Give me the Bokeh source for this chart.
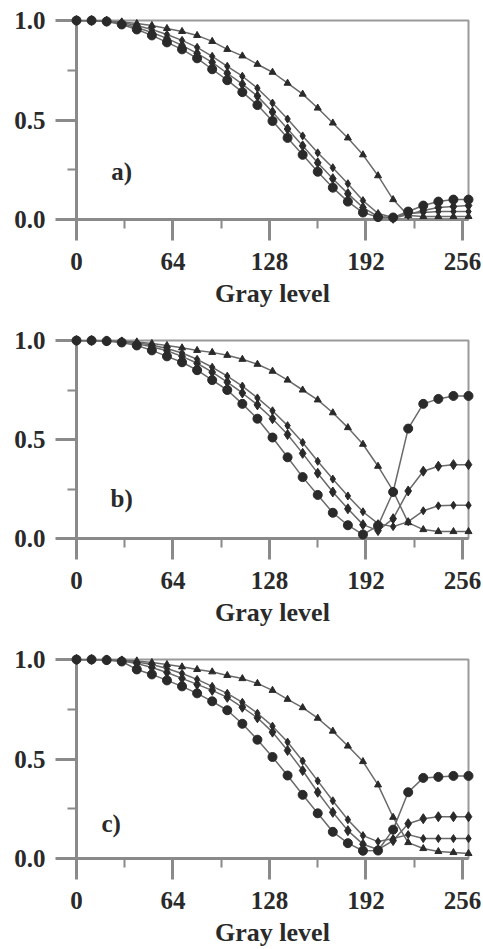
from bokeh.plotting import figure
from bokeh.layouts import column
from bokeh.models import Range1d, FixedTicker, PrintfTickFormatter, Label
from bokeh.embed import file_html
from bokeh.resources import INLINE

gray_level = list(range(0, 261, 10))
x_ticks = [0, 64, 128, 192, 256]
x_minor = [32, 96, 160, 224]
y_ticks = [0.0, 0.5, 1.0]
y_minor = [0.25, 0.75]
panel_tags = ["a)", "b)", "c)"]

# panel a
a1 = [1.0, 1.0, 0.995, 0.98, 0.955, 0.925, 0.89, 0.855, 0.81, 0.755, 0.70, 0.64, 0.575, 0.495, 0.41, 0.325, 0.24, 0.16, 0.09, 0.035, 0.012, 0.01, 0.04, 0.07, 0.09, 0.10, 0.10]
a2 = [1.0, 1.0, 0.996, 0.985, 0.965, 0.94, 0.91, 0.875, 0.835, 0.79, 0.735, 0.68, 0.62, 0.54, 0.455, 0.37, 0.285, 0.205, 0.13, 0.06, 0.015, 0.006, 0.025, 0.045, 0.06, 0.065, 0.07]
a3 = [1.0, 1.0, 0.998, 0.99, 0.975, 0.955, 0.93, 0.90, 0.865, 0.82, 0.77, 0.72, 0.66, 0.585, 0.505, 0.42, 0.335, 0.26, 0.18, 0.095, 0.03, 0.01, 0.03, 0.035, 0.04, 0.04, 0.04]
a4 = [1.0, 1.0, 0.998, 0.993, 0.985, 0.975, 0.96, 0.945, 0.925, 0.895, 0.855, 0.822, 0.78, 0.74, 0.685, 0.63, 0.56, 0.485, 0.41, 0.325, 0.22, 0.10, 0.02, 0.015, 0.015, 0.015, 0.015]

# panel b
b1 = [1.0, 1.0, 0.997, 0.99, 0.975, 0.95, 0.92, 0.89, 0.85, 0.80, 0.75, 0.68, 0.605, 0.51, 0.41, 0.31, 0.22, 0.13, 0.067, 0.02, 0.065, 0.235, 0.555, 0.68, 0.705, 0.72, 0.72]
b2 = [1.0, 1.0, 0.998, 0.993, 0.983, 0.968, 0.948, 0.92, 0.885, 0.84, 0.79, 0.735, 0.675, 0.605, 0.525, 0.43, 0.33, 0.235, 0.15, 0.07, 0.04, 0.10, 0.24, 0.34, 0.365, 0.373, 0.373]
b3 = [1.0, 1.0, 0.999, 0.995, 0.988, 0.977, 0.96, 0.937, 0.905, 0.865, 0.82, 0.77, 0.71, 0.645, 0.57, 0.485, 0.39, 0.30, 0.215, 0.135, 0.075, 0.06, 0.085, 0.14, 0.165, 0.168, 0.168]
b4 = [1.0, 1.0, 1.0, 0.997, 0.993, 0.985, 0.975, 0.963, 0.95, 0.94, 0.925, 0.905, 0.88, 0.845, 0.80, 0.75, 0.70, 0.635, 0.56, 0.476, 0.365, 0.24, 0.08, 0.045, 0.035, 0.035, 0.035]

# panel c
c1 = [1.0, 1.0, 0.997, 0.99, 0.95, 0.925, 0.895, 0.865, 0.83, 0.79, 0.745, 0.677, 0.597, 0.51, 0.417, 0.32, 0.227, 0.134, 0.077, 0.039, 0.04, 0.145, 0.333, 0.405, 0.41, 0.415, 0.415]
c2 = [1.0, 1.0, 0.998, 0.993, 0.98, 0.96, 0.935, 0.905, 0.875, 0.845, 0.81, 0.76, 0.707, 0.635, 0.543, 0.442, 0.333, 0.232, 0.14, 0.072, 0.045, 0.09, 0.175, 0.20, 0.21, 0.21, 0.21]
c3 = [1.0, 1.0, 0.999, 0.996, 0.988, 0.975, 0.955, 0.93, 0.90, 0.865, 0.83, 0.785, 0.73, 0.665, 0.585, 0.49, 0.39, 0.29, 0.195, 0.115, 0.085, 0.10, 0.12, 0.10, 0.10, 0.10, 0.10]
c4 = [1.0, 1.0, 1.0, 0.997, 0.993, 0.985, 0.975, 0.963, 0.95, 0.938, 0.92, 0.904, 0.88, 0.845, 0.80, 0.758, 0.705, 0.64, 0.565, 0.487, 0.37, 0.207, 0.08, 0.05, 0.035, 0.03, 0.025]

FONT = "Liberation Serif"
AX = "#8a8a8a"
INK = "#2a2a2a"

markers = [("circle", 9), ("diamond", 10), ("diamond", 8), ("triangle", 7)]


def make_panel(series, tag, tag_x, tag_y, height, top, bottom):
    p = figure(width=483, height=height, x_range=Range1d(0, 260), y_range=Range1d(0, 1),
               output_backend="svg", toolbar_location=None,
               min_border_left=76, min_border_right=15,
               min_border_top=top, min_border_bottom=bottom)
    p.grid.visible = False
    p.outline_line_color = "#9a9a9a"
    p.outline_line_width = 2
    for s, (m, sz) in zip(series, markers):
        p.line(gray_level, s, line_color="#6a6a6a", line_width=1.5)
        sc = p.scatter(gray_level, s, marker=m, size=sz, fill_color=INK, line_color=INK)
        sc.level = "overlay"
    xa = p.xaxis[0]
    ya = p.yaxis[0]
    xa.ticker = FixedTicker(ticks=x_ticks, minor_ticks=x_minor)
    ya.ticker = FixedTicker(ticks=y_ticks, minor_ticks=y_minor)
    ya.formatter = PrintfTickFormatter(format="%.1f")
    for a in (xa, ya):
        a.axis_line_color = AX
        a.axis_line_width = 3
        a.major_tick_line_color = AX
        a.major_tick_line_width = 3
        a.major_tick_out = 21
        a.major_tick_in = 0
        a.minor_tick_line_color = AX
        a.minor_tick_line_width = 2
        a.minor_tick_out = 9
        a.minor_tick_in = 0
        a.major_label_text_font = FONT
        a.major_label_text_font_size = "25px"
        a.major_label_text_font_style = "bold"
        a.major_label_text_color = INK
    xa.major_label_standoff = 12
    ya.major_label_standoff = 10
    xa.axis_label = "Gray level"
    xa.axis_label_text_font = FONT
    xa.axis_label_text_font_size = "26px"
    xa.axis_label_text_font_style = "bold"
    xa.axis_label_text_color = INK
    xa.axis_label_standoff = 6
    p.add_layout(Label(x=tag_x, y=tag_y, text=tag, text_align="center", text_baseline="middle",
                       text_font=FONT, text_font_size="25px", text_font_style="bold",
                       text_color=INK))
    return p


p1 = make_panel([a1, a2, a3, a4], panel_tags[0], 30, 0.24, 318, 20, 99)
p2 = make_panel([b1, b2, b3, b4], panel_tags[1], 30, 0.20, 320, 22, 100)
p3 = make_panel([c1, c2, c3, c4], panel_tags[2], 23, 0.175, 311, 21, 91)

layout = column(p1, p2, p3, spacing=0)
open("out.html", "w").write(file_html(layout, INLINE))
